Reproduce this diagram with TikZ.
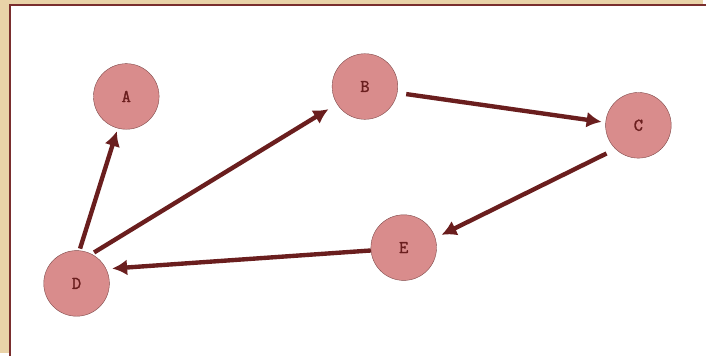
\documentclass[tikz,border=0pt]{standalone}
\usepackage{fontspec}
\newfontfamily\vtxfont{Latin Modern Mono}[FakeBold=1.6]
\usepackage{xcolor}
\usetikzlibrary{arrows.meta}
\definecolor{frame}{HTML}{E9D3A8}
\definecolor{rim}{HTML}{7A2E2E}
\definecolor{disc}{HTML}{D98C8C}
\definecolor{discline}{HTML}{7E4848}
\definecolor{arcred}{HTML}{6A1E1E}
\tikzset{
	vtx/.style={circle,draw=discline,fill=disc,thin,minimum size=66pt,inner sep=0pt,
		font=\vtxfont\fontsize{18}{18}\selectfont,text=arcred},
	arc/.style={draw=arcred,line width=4.4pt,-{Latex[length=15pt,width=16pt]}}
}
\begin{document}
\begin{tikzpicture}[x=1pt,y=-1pt]
	\fill[frame] (0,0) rectangle (707,355);
	\fill[white] (10,5) rectangle (707,355);
	\draw[rim,line width=2pt] (710,5) -- (10,5) -- (10,358);
	\useasboundingbox (0,0) rectangle (707,355);
	\node[vtx] (A) at (127,97) {A};
	\node[vtx] (B) at (367,87) {B};
	\node[vtx] (C) at (642,126) {C};
	\node[vtx] (D) at (77,285) {D};
	\node[vtx] (E) at (406,249) {E};
	\draw[arc,shorten <=2pt,shorten >=3pt] (D.85) -- (A.255);
	\draw[arc,shorten <=3pt,shorten >=10pt] (D.63) -- (B.212);
	\draw[arc,shorten <=9pt,shorten >=4pt] (B.-11) -- (C.175);
	\draw[arc,shorten <=10pt,shorten >=7pt] (C.226) -- (E.17);
	\draw[arc,shorten >=6pt] (E.185) -- (D.26);
\end{tikzpicture}
\end{document}
